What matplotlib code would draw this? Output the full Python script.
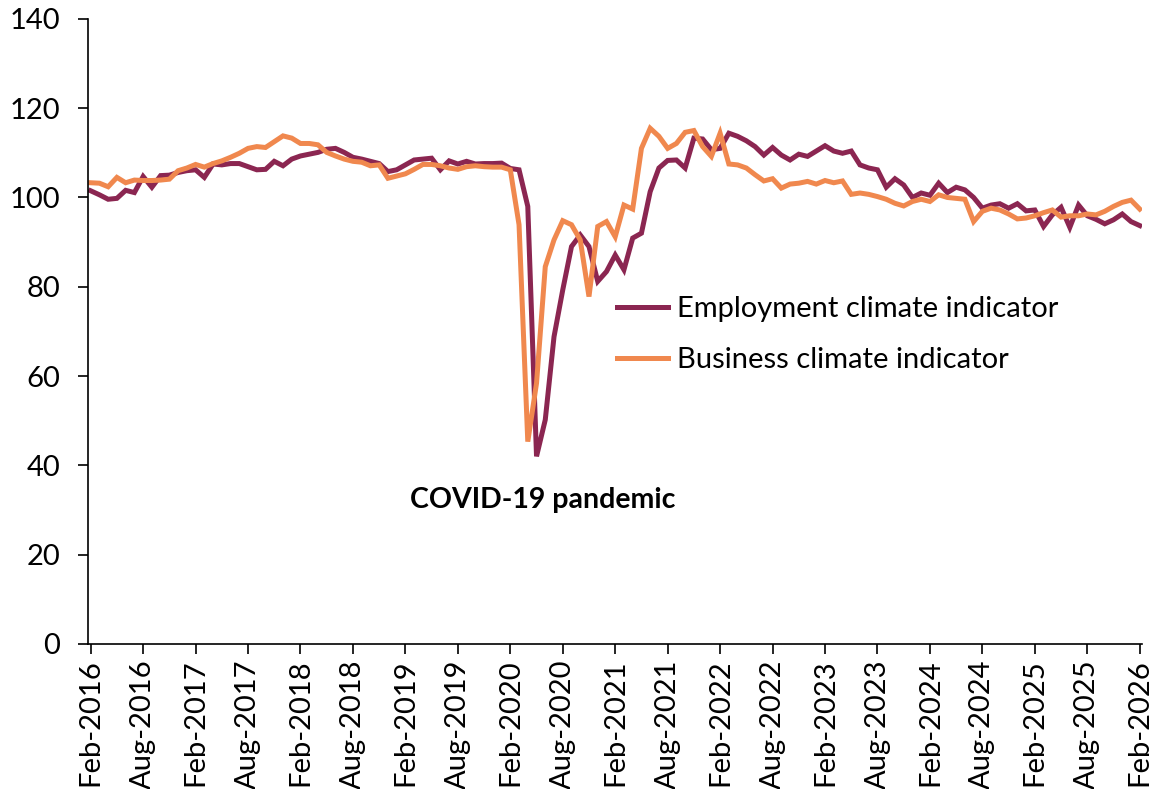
import matplotlib.pyplot as plt
import numpy as np
import pandas as pd

plt.rcParams['font.family'] = ['Lato', 'DejaVu Sans']

# monthly readings, Feb 2016 .. Feb 2026
months = pd.date_range('2016-02-01', '2026-02-01', freq='MS')

employment = [
    101.5, 100.6, 99.6, 99.8, 101.6, 101.1, 104.7, 102.3, 104.9, 105.0, 105.6, 106.0,
    106.2, 104.5, 107.5, 107.3, 107.6, 107.6, 106.9, 106.2, 106.3, 108.1, 107.1, 108.6,
    109.3, 109.7, 110.1, 110.8, 111.0, 110.1, 109.0, 108.6, 108.1, 107.6, 105.8, 106.2,
    107.3, 108.4, 108.6, 108.8, 106.2, 108.2, 107.5, 108.1, 107.5, 107.6, 107.6, 107.7,
    106.5, 106.2, 98.0, 42.0, 50.2, 68.8, 79.3, 89.0, 91.6, 89.0, 81.2, 83.4,
    87.1, 83.8, 90.9, 92.0, 101.3, 106.6, 108.3, 108.4, 106.6, 113.3, 113.1, 110.7,
    111.0, 114.4, 113.7, 112.7, 111.4, 109.5, 111.2, 109.5, 108.4, 109.7, 109.2, 110.4,
    111.6, 110.4, 109.9, 110.4, 107.3, 106.6, 106.2, 102.3, 104.2, 102.8, 100.0, 101.0,
    100.5, 103.2, 101.1, 102.3, 101.7, 100.0, 97.6, 98.3, 98.6, 97.6, 98.6, 97.0,
    97.2, 93.5, 96.1, 97.8, 93.3, 98.3, 95.9, 95.1, 94.1, 95.0, 96.3, 94.6,
    93.7,
]

business = [
    103.3, 103.2, 102.4, 104.5, 103.3, 103.9, 103.8, 103.8, 103.9, 104.1, 106.0, 106.6,
    107.4, 106.8, 107.6, 108.2, 109.0, 109.9, 111.0, 111.4, 111.2, 112.5, 113.8, 113.3,
    112.1, 112.1, 111.8, 110.1, 109.3, 108.6, 108.1, 107.9, 107.1, 107.3, 104.3, 104.8,
    105.3, 106.3, 107.4, 107.4, 107.1, 106.6, 106.3, 106.9, 107.1, 106.9, 106.8, 106.8,
    106.2, 93.9, 45.3, 58.4, 84.5, 90.5, 94.8, 93.9, 90.5, 77.8, 93.5, 94.6,
    91.2, 98.3, 97.4, 111.0, 115.5, 113.7, 111.0, 112.1, 114.6, 115.0, 111.4, 109.2,
    114.4, 107.5, 107.3, 106.6, 105.1, 103.7, 104.2, 102.1, 103.0, 103.2, 103.6, 103.0,
    103.8, 103.3, 103.7, 100.7, 101.0, 100.7, 100.2, 99.6, 98.7, 98.1, 99.1, 99.6,
    99.1, 100.6, 100.0, 99.8, 99.6, 94.6, 96.9, 97.6, 97.2, 96.3, 95.2, 95.4,
    95.9, 96.6, 97.2, 95.6, 95.9, 95.9, 96.3, 96.1, 96.9, 98.0, 98.9, 99.4,
    97.4,
]

x = np.arange(len(months))
tick_pos = x[::6]
tick_labels = [m.strftime('%b-%Y') for m in months[::6]]

fig = plt.figure(figsize=(11.51, 7.89), dpi=100)
ax = fig.add_axes([0.0765, 0.184, 0.916, 0.792])

ax.plot(x, employment, color='#8B2651', lw=3.6, label='Employment climate indicator',
        solid_joinstyle='miter')
ax.plot(x, business, color='#F0884E', lw=3.6, label='Business climate indicator',
        solid_joinstyle='miter')

ax.set_xlim(-0.3, 120.3)
ax.set_ylim(0, 140)
ax.set_yticks(range(0, 141, 20))
ax.set_xticks(tick_pos)
ax.set_xticklabels(tick_labels, rotation=90)

for side in ['top', 'right']:
    ax.spines[side].set_visible(False)
for side in ['left', 'bottom']:
    ax.spines[side].set_linewidth(1.2)
ax.tick_params(axis='both', direction='out', length=7, width=1.2, labelsize=21)
ax.tick_params(axis='x', pad=4)
ax.tick_params(axis='y', pad=13)

ax.text(51.7, 32.3, 'COVID-19 pandemic', ha='center', va='center',
        fontsize=20.5, fontweight='bold')

ax.legend(loc='upper left', bbox_to_anchor=(617 / 1151, 1 - 296 / 789),
          bbox_transform=fig.transFigure, frameon=False, fontsize=21,
          handlelength=1.75, handletextpad=0.3, borderpad=0, borderaxespad=0,
          labelspacing=0.86)

fig.savefig('out.png', dpi=100)
